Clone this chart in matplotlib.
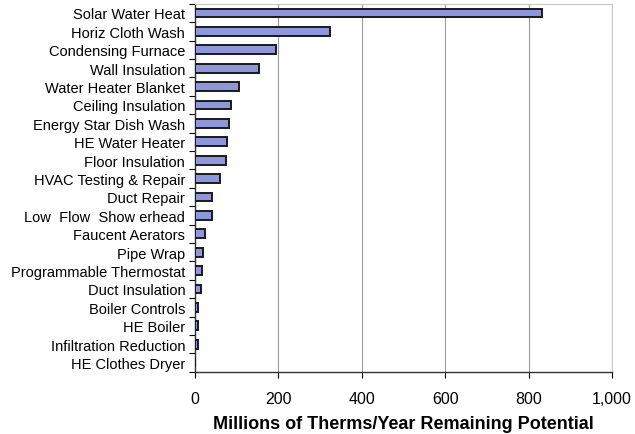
import numpy as np
import matplotlib
matplotlib.use("Agg")
import matplotlib.pyplot as plt
from matplotlib.ticker import FuncFormatter

measures = ["Solar Water Heat", "Horiz Cloth Wash", "Condensing Furnace",
            "Wall Insulation", "Water Heater Blanket", "Ceiling Insulation",
            "Energy Star Dish Wash", "HE Water Heater", "Floor Insulation",
            "HVAC Testing & Repair", "Duct Repair", "Low  Flow  Show erhead",
            "Faucent Aerators", "Pipe Wrap", "Programmable Thermostat",
            "Duct Insulation", "Boiler Controls", "HE Boiler",
            "Infiltration Reduction", "HE Clothes Dryer"]
potential = [831, 323, 195, 153, 106, 86, 81, 77, 74, 60,
             40, 41, 24, 20, 17, 14, 7, 7, 7, 0]
xticks = [0, 200, 400, 600, 800, 1000]

plt.rcParams['font.family'] = ['Liberation Sans', 'DejaVu Sans']

fig = plt.figure(figsize=(6.35, 4.35), dpi=100)
ax = fig.add_axes([0.307, 0.143, 0.657, 0.846])

y = np.arange(len(measures))
ax.barh(y, potential, height=0.47, color='#8d97d9', edgecolor='#1a1a1a',
        linewidth=1.4, zorder=3)

ax.set_ylim(len(measures) - 0.5, -0.5)
ax.set_xlim(0, 1000)
ax.set_yticks(y)
ax.set_yticklabels(measures, fontsize=10.5)
ax.set_yticks(np.arange(len(measures) + 1) - 0.5, minor=True)
ax.tick_params(axis='y', which='major', length=0, pad=7)
ax.tick_params(axis='y', which='minor', length=4, width=0.8, direction='out')
ax.set_xticks(xticks)
ax.xaxis.set_major_formatter(FuncFormatter(lambda v, p: f"{int(v):,}"))
ax.tick_params(axis='x', length=4, width=0.8, labelsize=11.5, pad=10)

ax.grid(axis='x', color='#9a9a9a', linewidth=0.8, zorder=0)
for s in ['top', 'right']:
    ax.spines[s].set_color('#c8c8c8')
    ax.spines[s].set_linewidth(0.8)
for s in ['left', 'bottom']:
    ax.spines[s].set_color('#333333')
    ax.spines[s].set_linewidth(1.0)

ax.set_xlabel("Millions of Therms/Year Remaining Potential", fontsize=13,
              fontweight='bold', labelpad=6)

fig.savefig("out.png", dpi=100)
